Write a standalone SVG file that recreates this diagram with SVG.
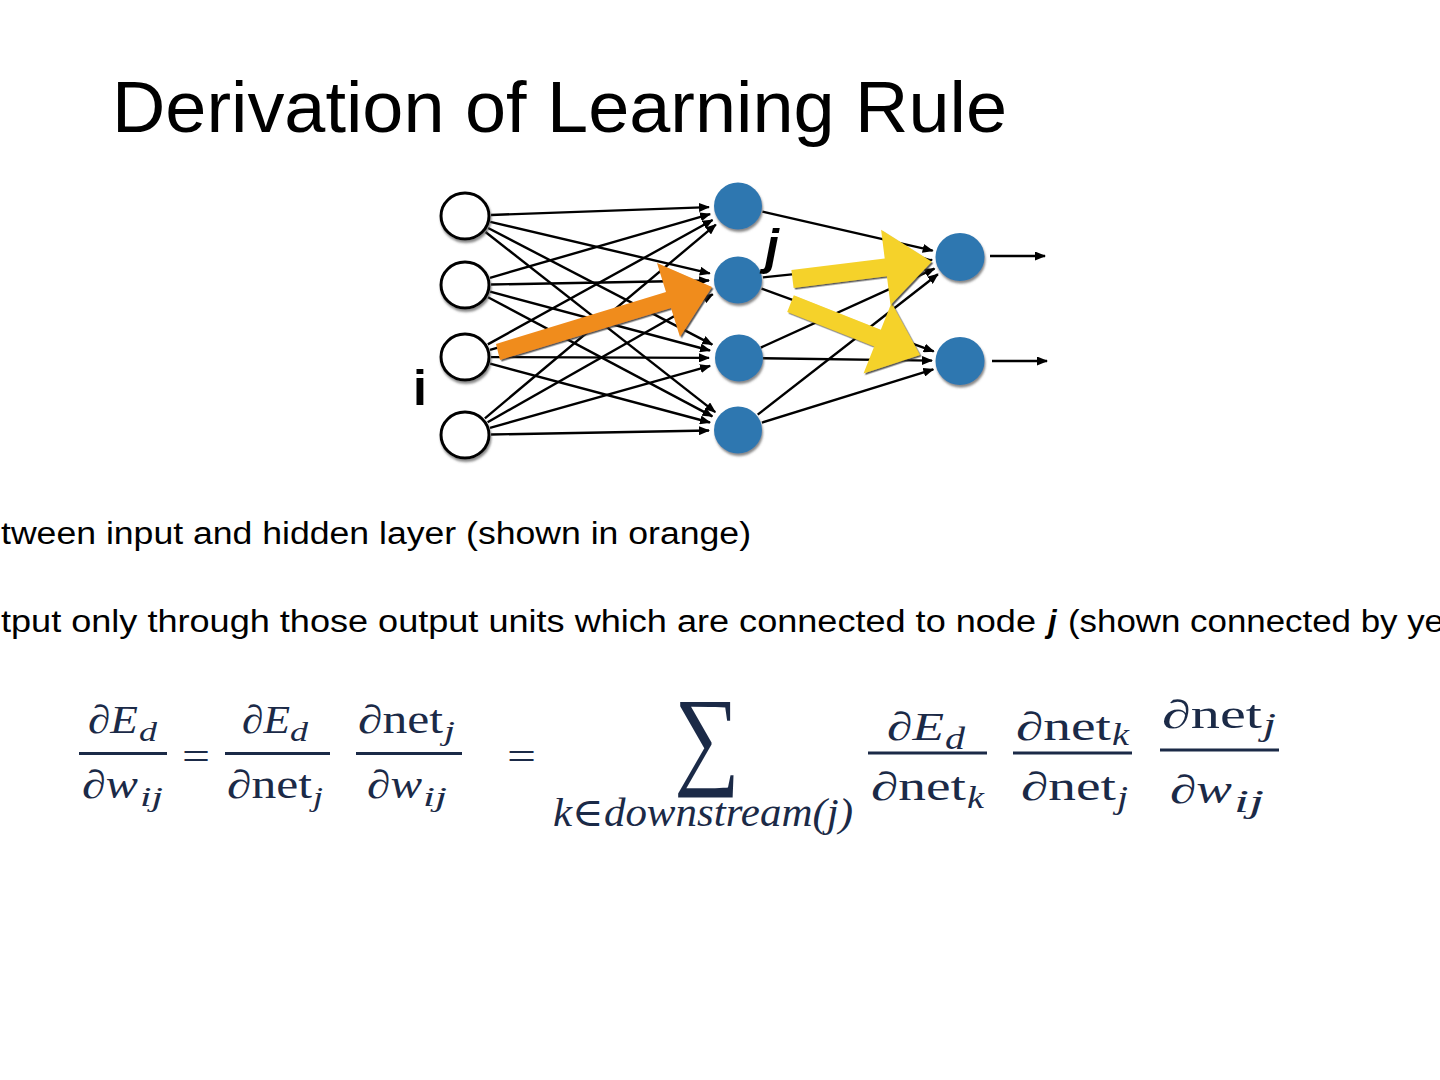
<svg xmlns="http://www.w3.org/2000/svg" width="1440" height="1080" viewBox="0 0 1440 1080">
<defs>
<marker id="ah" markerUnits="userSpaceOnUse" markerWidth="11" markerHeight="9" refX="10" refY="4.5" orient="auto">
<path d="M0,0 L11,4.5 L0,9 z" fill="#000"/>
</marker>
<filter id="sh" x="-30%" y="-30%" width="160%" height="160%">
<feDropShadow dx="1" dy="2.5" stdDeviation="0.8" flood-color="#555" flood-opacity="0.7"/>
</filter>
<filter id="ash" x="-10%" y="-10%" width="120%" height="120%">
<feDropShadow dx="1.5" dy="1.5" stdDeviation="0.6" flood-color="#333" flood-opacity="0.8"/>
</filter>
</defs>
<style>
.txt{font-family:"Liberation Sans","Arial",sans-serif;fill:#000}
.cn{stroke:#000;stroke-width:2.4;fill:none;marker-end:url(#ah)}
.in{fill:#fff;stroke:#000;stroke-width:3;filter:url(#sh)}
.hid{fill:#2f77b0;filter:url(#sh)}
.m{font-family:"Liberation Serif","DejaVu Serif",serif;fill:#1b2a47;font-size:40px}
.mi{font-style:italic}
.s{font-size:28px}
.s2{font-size:31px}
.bar{stroke:#1b2a47;stroke-width:3}
</style>
<rect width="1440" height="1080" fill="#fff"/>

<text class="txt" x="112" y="132" font-size="73" textLength="895" lengthAdjust="spacingAndGlyphs">Derivation of Learning Rule</text>

<g id="connectors">
<line class="cn" x1="491" y1="215" x2="709" y2="207.1"/>
<line class="cn" x1="490.3" y1="221.9" x2="709.8" y2="273.4"/>
<line class="cn" x1="488.1" y1="228" x2="712.3" y2="344.6"/>
<line class="cn" x1="485.5" y1="232" x2="715.2" y2="412.1"/>
<line class="cn" x1="490" y1="277.8" x2="710.1" y2="214.1"/>
<line class="cn" x1="491" y1="284.5" x2="709" y2="280.5"/>
<line class="cn" x1="490.1" y1="291.7" x2="710" y2="350.5"/>
<line class="cn" x1="488" y1="297.2" x2="712.4" y2="416.4"/>
<line class="cn" x1="487.8" y1="344.4" x2="712.6" y2="220"/>
<line class="cn" x1="490" y1="349.9" x2="710.1" y2="287.9"/>
<line class="cn" x1="491" y1="357.1" x2="709" y2="357.9"/>
<line class="cn" x1="490.1" y1="363.7" x2="710" y2="422.5"/>
<line class="cn" x1="484.9" y1="418.3" x2="715.8" y2="224.6"/>
<line class="cn" x1="487.6" y1="422.2" x2="712.8" y2="294.3"/>
<line class="cn" x1="490" y1="427.9" x2="710.1" y2="365.9"/>
<line class="cn" x1="491" y1="434.5" x2="709" y2="430.5"/>
<line class="cn" x1="762.4" y1="211.6" x2="932.7" y2="250.7"/>
<line class="cn" x1="762.9" y1="277.4" x2="932.1" y2="259.9"/>
<line class="cn" x1="761.5" y1="288.6" x2="933.7" y2="351.4"/>
<line class="cn" x1="760.8" y1="347.6" x2="934.5" y2="268.6"/>
<line class="cn" x1="763" y1="358.3" x2="932" y2="360.6"/>
<line class="cn" x1="757.7" y1="414.6" x2="937.9" y2="274.2"/>
<line class="cn" x1="761.9" y1="422.6" x2="933.3" y2="369.3"/>
<line class="cn" x1="990" y1="256" x2="1045" y2="256"/>
<line class="cn" x1="992" y1="361" x2="1047" y2="361"/>
</g>

<g id="input-nodes">
<ellipse id="in1" class="in" cx="465" cy="216" rx="24" ry="23"/>
<ellipse id="in2" class="in" cx="465" cy="285" rx="24" ry="23"/>
<ellipse id="in3" class="in" cx="465" cy="357" rx="24" ry="23"/>
<ellipse id="in4" class="in" cx="465" cy="435" rx="24" ry="23"/>
</g>
<g id="hidden-nodes">
<ellipse id="h1" class="hid" cx="738" cy="206" rx="24" ry="23.5"/>
<ellipse id="h2" class="hid" cx="738" cy="280" rx="24" ry="23.5"/>
<ellipse id="h3" class="hid" cx="739" cy="358" rx="24" ry="23.5"/>
<ellipse id="h4" class="hid" cx="738" cy="430" rx="24" ry="23.5"/>
</g>
<g id="output-nodes">
<ellipse id="o1" class="hid" cx="960" cy="257" rx="24.5" ry="24"/>
<ellipse id="o2" class="hid" cx="960" cy="361" rx="24.5" ry="24"/>
</g>

<g id="orange-arrow">
<polygon points="496,344 666,292 657,263 712,287 680,337 671,308 500,360" fill="#f08c1e" filter="url(#ash)"/>
</g>
<g id="yellow-arrows">
<polygon points="793.8,295.3 880.8,329.7 891.5,302.8 920,355 863.5,373.4 874.2,346.5 787.2,312.1" fill="#f5d22c" filter="url(#ash)"/>
<polygon points="791.4,270.1 884.7,258.5 881.1,229.7 931.7,261.7 890.5,305.1 886.9,276.3 793.6,287.9" fill="#f5d22c" filter="url(#ash)"/>
</g>

<g id="labels">
<text class="txt" x="420" y="405" font-size="50" font-weight="bold" text-anchor="middle">i</text>
<text class="txt" x="772" y="264" font-size="50" font-weight="bold" font-style="italic" text-anchor="middle">j</text>
</g>

<g id="body-text">
<text class="txt" x="1" y="544" font-size="31" textLength="750" lengthAdjust="spacingAndGlyphs">tween input and hidden layer (shown in orange)</text>
<text class="txt" x="1" y="632" font-size="31" textLength="1035" lengthAdjust="spacingAndGlyphs">tput only through those output units which are connected to node</text>
<text class="txt" x="1048" y="632" font-size="31" font-weight="bold" font-style="italic">j</text>
<text class="txt" x="1068" y="632" font-size="31" textLength="376" lengthAdjust="spacingAndGlyphs">(shown connected by ye</text>
</g>

<g id="equation">
<text class="m" x="88" y="733" textLength="50" lengthAdjust="spacingAndGlyphs">∂<tspan class="mi">E</tspan></text>
<text class="m mi s" x="139" y="741" textLength="18" lengthAdjust="spacingAndGlyphs">d</text>
<line class="bar" x1="79" y1="753.5" x2="167" y2="753.5"/>
<text class="m" x="82" y="798" textLength="56" lengthAdjust="spacingAndGlyphs">∂<tspan class="mi">w</tspan></text>
<text class="m mi s" x="140" y="806" textLength="23" lengthAdjust="spacingAndGlyphs">ij</text>

<text class="m" x="182" y="770" font-size="48" textLength="28" lengthAdjust="spacingAndGlyphs">=</text>

<text class="m" x="242" y="733" textLength="48" lengthAdjust="spacingAndGlyphs">∂<tspan class="mi">E</tspan></text>
<text class="m mi s" x="290" y="741" textLength="18" lengthAdjust="spacingAndGlyphs">d</text>
<line class="bar" x1="225" y1="753.5" x2="330" y2="753.5"/>
<text class="m" x="227" y="798" textLength="85" lengthAdjust="spacingAndGlyphs">∂net</text>
<text class="m mi s" x="313" y="806" textLength="10" lengthAdjust="spacingAndGlyphs">j</text>

<text class="m" x="358" y="733" textLength="85" lengthAdjust="spacingAndGlyphs">∂net</text>
<text class="m mi s" x="444" y="740" textLength="11" lengthAdjust="spacingAndGlyphs">j</text>
<line class="bar" x1="356" y1="753.5" x2="462" y2="753.5"/>
<text class="m" x="367" y="798" textLength="55" lengthAdjust="spacingAndGlyphs">∂<tspan class="mi">w</tspan></text>
<text class="m mi s" x="423" y="806" textLength="24" lengthAdjust="spacingAndGlyphs">ij</text>

<text class="m" x="507" y="770" font-size="48" textLength="29" lengthAdjust="spacingAndGlyphs">=</text>

<text class="m" transform="translate(674,774) scale(1,2.75)" x="0" y="0" font-size="110" textLength="66" lengthAdjust="spacingAndGlyphs">∑</text>
<text class="m mi" x="553" y="826" font-size="31" textLength="300" lengthAdjust="spacingAndGlyphs">k∈downstream(j)</text>

<text class="m" x="887" y="740" font-size="44" textLength="57" lengthAdjust="spacingAndGlyphs">∂<tspan class="mi">E</tspan></text>
<text class="m mi s2" x="945" y="749" textLength="20" lengthAdjust="spacingAndGlyphs">d</text>
<line class="bar" x1="868" y1="753" x2="987" y2="753"/>
<text class="m" x="871" y="800" font-size="44" textLength="95" lengthAdjust="spacingAndGlyphs">∂net</text>
<text class="m mi s2" x="967" y="808" textLength="17" lengthAdjust="spacingAndGlyphs">k</text>

<text class="m" x="1016" y="740" font-size="44" textLength="95" lengthAdjust="spacingAndGlyphs">∂net</text>
<text class="m mi s2" x="1112" y="745" textLength="17" lengthAdjust="spacingAndGlyphs">k</text>
<line class="bar" x1="1013" y1="753" x2="1132" y2="753"/>
<text class="m" x="1021" y="800" font-size="44" textLength="95" lengthAdjust="spacingAndGlyphs">∂net</text>
<text class="m mi s2" x="1117" y="808" textLength="11" lengthAdjust="spacingAndGlyphs">j</text>

<text class="m" x="1162" y="728" font-size="46" textLength="100" lengthAdjust="spacingAndGlyphs">∂net</text>
<text class="m mi s2" x="1263" y="735" textLength="13" lengthAdjust="spacingAndGlyphs">j</text>
<line class="bar" x1="1160" y1="750" x2="1279" y2="750"/>
<text class="m" x="1170" y="803" font-size="46" textLength="62" lengthAdjust="spacingAndGlyphs">∂<tspan class="mi">w</tspan></text>
<text class="m mi s2" x="1234" y="812" textLength="30" lengthAdjust="spacingAndGlyphs">ij</text>
</g>
</svg>
